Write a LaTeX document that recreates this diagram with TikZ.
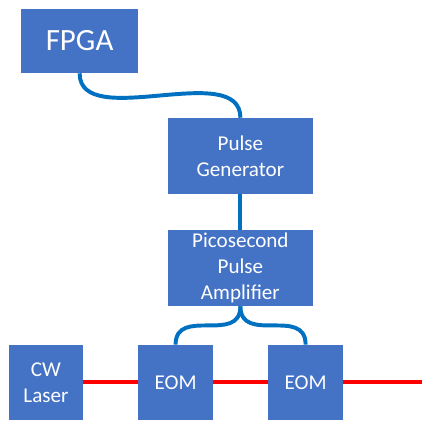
\documentclass[tikz,border=0pt]{standalone}
\usepackage{fontspec}
\setmainfont{Carlito}
\usepackage{tikz}
\definecolor{boxblue}{HTML}{4472C4}
\definecolor{wireblue}{HTML}{0070C0}

\begin{document}
\begin{tikzpicture}[
    box/.style={fill=boxblue,text=white,align=center,inner sep=0pt,
      font=\fontsize{15}{18.6}\selectfont},
    wire/.style={wireblue,line width=2.8pt},
    beam/.style={red,line width=2.8pt}]
    \useasboundingbox (0,0) rectangle (10.7,-10.9);
     \node [box,minimum width=2.925cm,minimum height=1.6cm,
       font=\fontsize{22}{26}\selectfont] (fpga) at (1.99,-1.025) {FPGA};
     \node [box,minimum width=3.625cm,minimum height=1.9cm] (pulsegen) at (6.01,-3.9) {Pulse\\Generator};
     \node [box,minimum width=3.625cm,minimum height=1.9cm] (amp) at (6.01,-6.7) {Picosecond\\Pulse\\Amplifier};
     \node [box,minimum width=1.85cm,minimum height=1.875cm] (laser) at (1.15,-9.56) {CW\\Laser};
     \node [box,minimum width=1.875cm,minimum height=1.875cm] (eoma) at (4.39,-9.56) {EOM};
     \node [box,minimum width=1.875cm,minimum height=1.875cm] (eomb) at (7.64,-9.56) {EOM};
     \coordinate (out) at (10.55,-9.56);
    % electrical lines
     \draw [wire] (fpga.south) to[out=-90,in=90,looseness=0.9] (pulsegen.north);
     \draw [wire] (pulsegen.south) -- (amp.north);
     \draw [wire] (amp.south) to[out=-90,in=90,looseness=1.3] (eoma.north);
     \draw [wire] (amp.south) to[out=-90,in=90,looseness=1.3] (eomb.north);
    % optical line
     \draw [beam] (laser.east) -- (eoma.west);
     \draw [beam] (eoma.east) -- (eomb.west);
     \draw [beam] (eomb.east) -- (out);
    \end{tikzpicture}
\end{document}
